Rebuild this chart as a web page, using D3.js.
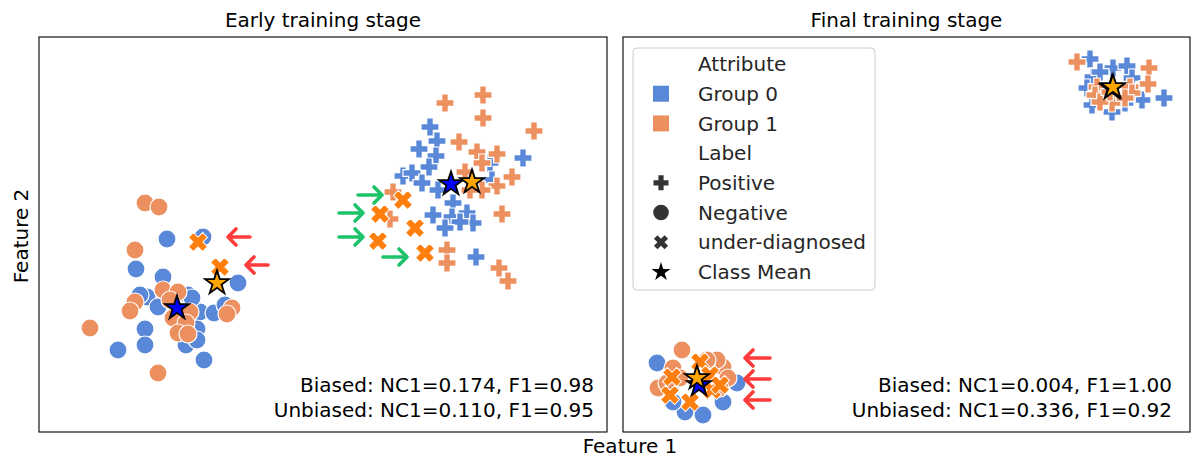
<!DOCTYPE html>
<html><head><meta charset="utf-8">
<script src="https://cdn.jsdelivr.net/npm/d3@7"></script>
<style>body{margin:0;background:#fff}svg{display:block;font-family:"DejaVu Sans",sans-serif}</style>
</head><body><svg id="c" width="1200" height="470"></svg>
<script>
// ---------- data (feature-space units) ----------
const panelTitles = ["Early training stage", "Final training stage"];
const statsEarly = ["Biased: NC1=0.174, F1=0.98", "Unbiased: NC1=0.110, F1=0.95"];
const statsFinal = ["Biased: NC1=0.004, F1=1.00", "Unbiased: NC1=0.336, F1=0.92"];

// Early stage
const earlyNegG0 = [[12.8,19.3],[9.7,16.3],[12.4,15.5],[10.8,13.5],[11.9,12.5],[14.9,13.7],[16.1,12.0],[17.5,11.9],[18.6,12.7],[19.9,14.9],[16.4,19.5],[10.6,10.3],[10.6,8.7],[7.9,8.2],[15.8,10.3],[14.7,8.7],[15.8,9.2],[16.5,7.2],[10.1,13.7],[15.3,13.4]];
const earlyNegG1 = [[10.6,22.9],[12.0,22.5],[9.6,18.2],[9.6,13.0],[9.1,12.1],[5.1,10.4],[11.9,5.9],[12.4,14.2],[13.9,14.0],[13.1,13.2],[15.1,12.0],[13.4,11.4],[14.7,10.9],[13.9,9.9],[14.9,9.8],[19.3,12.4],[18.8,11.8]];
const earlyPosG0 = [[39.1,30.5],[39.8,29.1],[38.0,28.3],[39.7,27.6],[39.0,26.5],[36.4,25.6],[37.3,25.9],[38.3,24.9],[39.4,21.7],[48.4,27.4],[45.1,26.9],[41.4,22.9],[41.3,21.5],[42.8,21.9],[43.4,20.9],[43.7,17.5],[42.1,21.0],[39.9,24.2],[45.3,25.2],[40.6,20.4]];
const earlyPosG1 = [[40.6,32.9],[35.4,24.0],[35.1,21.3],[40.8,18.2],[40.8,16.9],[44.4,33.7],[44.4,31.4],[49.5,30.1],[42.0,29.0],[43.8,28.0],[45.8,27.8],[44.3,26.9],[42.6,26.0],[47.3,25.5],[45.8,24.6],[44.3,24.2],[46.3,21.8],[46.0,16.4],[46.9,15.1],[43.1,24.2]];
const earlyUnder = [[15.9,19.0],[18.1,16.5],[36.4,23.2],[34.1,21.8],[37.6,20.4],[33.9,19.1],[38.6,17.9]];
const earlyMeans = [{g:0,p:[13.8,12.4]},{g:1,p:[17.8,14.9]},{g:0,p:[41.2,24.8]},{g:1,p:[43.3,25.0]}];
const earlyRedArrows = [[[21.1,19.5],[18.9,19.5]],[[22.9,16.7],[20.7,16.7]]];
const earlyGreenArrows = [[[31.9,23.7],[34.3,23.7]],[[30.0,21.9],[32.4,21.9]],[[30.0,19.5],[32.4,19.5]],[[34.4,17.5],[36.8,17.5]]];

// Final stage
const finalNegG0 = [[3.4,6.9],[11.4,4.9],[6.2,2.0],[8.0,1.7],[5.0,3.0],[10.0,3.0],[4.7,4.4]];
const finalNegG1 = [[5.9,8.2],[3.5,4.4],[10.0,6.5],[10.5,5.4],[9.4,7.2],[5.0,6.4],[8.4,7.2],[5.7,5.4],[9.7,4.4],[4.4,4.9]];
const finalPosG0 = [[46.7,37.3],[49.0,36.4],[50.4,36.6],[54.1,33.4],[51.9,33.2],[47.0,35.5],[46.9,32.7],[48.9,32.0],[50.2,32.9],[46.4,34.4],[47.7,36.0],[50.9,35.4]];
const finalPosG1 = [[45.4,37.0],[52.6,36.4],[52.5,34.8],[47.4,34.5],[47.2,33.7],[48.9,32.9],[50.7,34.5],[50.9,33.9],[50.2,33.4],[47.7,33.0],[48.7,34.0]];
const finalUnder = [[7.7,7.0],[4.9,5.5],[8.7,5.7],[8.9,4.2],[4.7,3.7],[6.7,3.0],[9.7,4.7]];
const finalMeans = [{g:0,p:[48.9,34.4]},{g:1,p:[49.0,34.5]},{g:0,p:[7.6,4.7]},{g:1,p:[7.4,5.4]}];
const finalRedArrows = [[[14.7,7.4],[12.2,7.4]],[[14.7,5.3],[12.2,5.3]],[[14.7,3.2],[12.2,3.2]]];

const legendItems = [
  {label:"Attribute", kind:"header"},
  {label:"Group 0", kind:"square", g:0},
  {label:"Group 1", kind:"square", g:1},
  {label:"Label", kind:"header"},
  {label:"Positive", kind:"plus"},
  {label:"Negative", kind:"circle"},
  {label:"under-diagnosed", kind:"x"},
  {label:"Class Mean", kind:"star"}
];
const axisLabels = {x:"Feature 1", y:"Feature 2"};

// ---------- styles ----------
const groupColor = ["#5a88d8", "#ec9060"];
const starColor = ["#0000ff", "#ffa500"];
const underColor = "#ff7f0e";
const redArrow = "#ff3b3b", greenArrow = "#1dc36a";

const svg = d3.select("#c");

function plusPath(L, w){
  return `M${-w},${-L}H${w}V${-w}H${L}V${w}H${w}V${L}H${-w}V${w}H${-L}V${-w}H${-w}Z`;
}
function starPath(R){
  const r = R*0.382; let p = [];
  for(let i=0;i<10;i++){
    const a = -Math.PI/2 + i*Math.PI/5, rr = i%2?r:R;
    p.push([rr*Math.cos(a), rr*Math.sin(a)]);
  }
  return "M"+p.map(d=>d.join(",")).join("L")+"Z";
}

function drawPanel(x0, x1, domX, title, stats, statsRight, d){
  const x = d3.scaleLinear().domain([0,domX]).range([x0,x1]);
  const y = d3.scaleLinear().domain([0,39.5]).range([432,37]);
  const g = svg.append("g");
  g.append("rect").attr("x",x0).attr("y",37).attr("width",x1-x0).attr("height",395)
    .attr("fill","none").attr("stroke","#000").attr("stroke-width",1.1);
  g.append("text").attr("x",(x0+x1)/2).attr("y",27).attr("text-anchor","middle")
    .attr("font-size",20).text(title);

  const plus = plusPath(9,3.3);
  [[d.negG0,0],[d.negG1,1]].forEach(([arr,gi])=>{
    g.selectAll(null).data(arr).join("circle")
      .attr("cx",p=>x(p[0])).attr("cy",p=>y(p[1])).attr("r",9)
      .attr("fill",groupColor[gi]).attr("stroke","#fff").attr("stroke-width",1.2);
  });
  [[d.posG0,0],[d.posG1,1]].forEach(([arr,gi])=>{
    g.selectAll(null).data(arr).join("path")
      .attr("d",plus).attr("transform",p=>`translate(${x(p[0])},${y(p[1])})`)
      .attr("fill",groupColor[gi]).attr("stroke","#fff").attr("stroke-width",1.2);
  });
  g.selectAll(null).data(d.under).join("path")
    .attr("d",plusPath(10,3.5)).attr("transform",p=>`translate(${x(p[0])},${y(p[1])}) rotate(45)`)
    .attr("fill",underColor).attr("stroke","#fff").attr("stroke-width",1);
  g.selectAll(null).data(d.means).join("path")
    .attr("d",starPath(12.5)).attr("transform",m=>`translate(${x(m.p[0])},${y(m.p[1])})`)
    .attr("fill",m=>starColor[m.g]).attr("stroke","#000").attr("stroke-width",1.8).attr("stroke-linejoin","miter");
  function arrows(arr,col){
    arr.forEach(([a,b])=>{
      const ax=x(a[0]), ay=y(a[1]), bx=x(b[0]), by=y(b[1]);
      const dir = Math.sign(bx-ax), h=8;
      g.append("path").attr("d",`M${ax},${ay}L${bx},${by}M${bx-dir*h},${by-h}L${bx},${by}L${bx-dir*h},${by+h}`)
        .attr("fill","none").attr("stroke",col).attr("stroke-width",3.6)
        .attr("stroke-linecap","round").attr("stroke-linejoin","round");
    });
  }
  arrows(d.red||[],redArrow);
  arrows(d.green||[],greenArrow);
  stats.forEach((s,i)=>{
    g.append("text").attr("x",statsRight).attr("y",392+i*25).attr("text-anchor","end")
      .attr("font-size",20).text(s);
  });
}

drawPanel(39,607,56.8,panelTitles[0],statsEarly,594,{negG0:earlyNegG0,negG1:earlyNegG1,posG0:earlyPosG0,posG1:earlyPosG1,under:earlyUnder,means:earlyMeans,red:earlyRedArrows,green:earlyGreenArrows});
drawPanel(623,1190,56.7,panelTitles[1],statsFinal,1172,{negG0:finalNegG0,negG1:finalNegG1,posG0:finalPosG0,posG1:finalPosG1,under:finalUnder,means:finalMeans,red:finalRedArrows});

// legend
const lg = svg.append("g");
lg.append("rect").attr("x",633).attr("y",48).attr("width",242).attr("height",242).attr("rx",4)
  .attr("fill","#fff").attr("fill-opacity",0.8).attr("stroke","#cccccc").attr("stroke-width",1);
const ly = d3.scalePoint().domain(legendItems.map(d=>d.label)).range([64,272]);
legendItems.forEach(it=>{
  const cy = ly(it.label), mx = 661;
  lg.append("text").attr("x",698).attr("y",cy).attr("dy","0.36em").attr("font-size",20).attr("fill","#262626").text(it.label);
  if(it.kind==="square") lg.append("rect").attr("x",mx-8).attr("y",cy-8).attr("width",16).attr("height",16).attr("fill",groupColor[it.g]);
  if(it.kind==="plus") lg.append("path").attr("d",plusPath(7.5,2.6)).attr("transform",`translate(${mx},${cy})`).attr("fill","#333");
  if(it.kind==="circle") lg.append("circle").attr("cx",mx).attr("cy",cy).attr("r",7.8).attr("fill","#333");
  if(it.kind==="x") lg.append("path").attr("d",plusPath(7.5,2.5)).attr("transform",`translate(${mx},${cy}) rotate(45)`).attr("fill","#333");
  if(it.kind==="star") lg.append("path").attr("d",starPath(10)).attr("transform",`translate(${mx},${cy})`).attr("fill","#000");
});

svg.append("text").attr("x",630).attr("y",453).attr("text-anchor","middle").attr("font-size",20).text(axisLabels.x);
svg.append("text").attr("transform","translate(28,236) rotate(-90)").attr("text-anchor","middle").attr("font-size",20).text(axisLabels.y);
</script></body></html>
